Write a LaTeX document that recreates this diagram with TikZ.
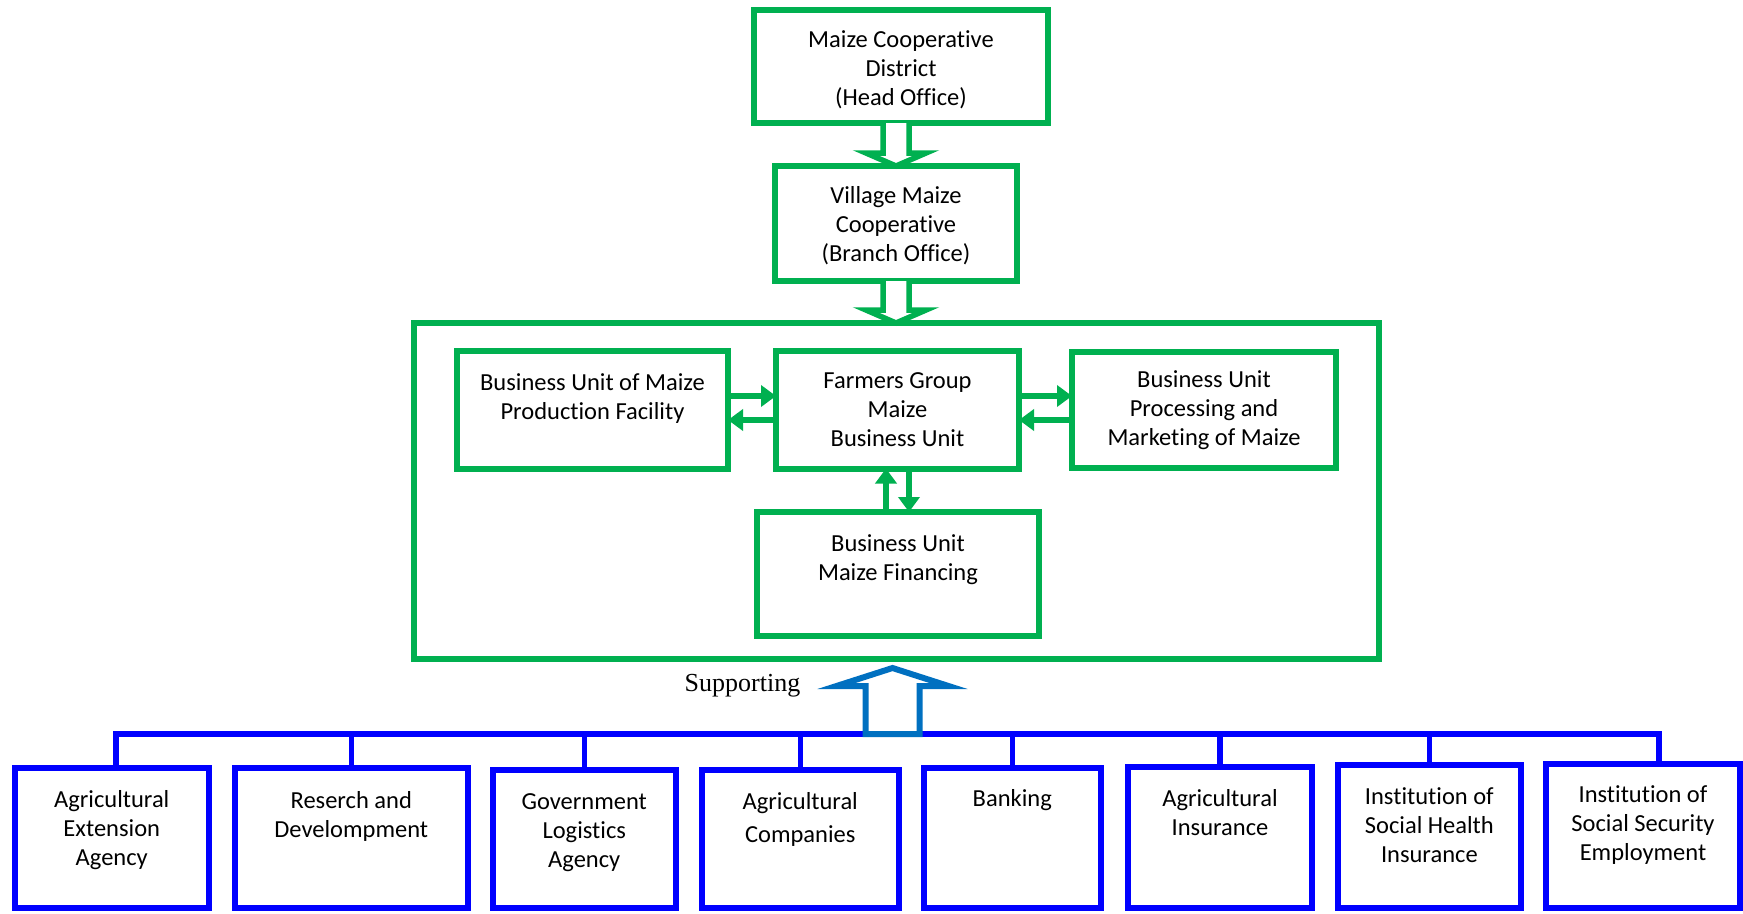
\documentclass[tikz,border=0pt]{standalone}
\usepackage{fontspec}
\newfontfamily\calibri[Ligatures=NoCommon]{Carlito}
\newfontfamily\timesfont{Liberation Serif}
\usetikzlibrary{calc,arrows.meta}

\definecolor{office_green}{HTML}{00B050}
\definecolor{office_blue}{HTML}{0000FF}
\definecolor{support_blue}{HTML}{0070C0}

\begin{document}
\begin{tikzpicture}[x=1pt, y=-1pt,
    gbox/.style={draw=office_green, line width=6pt, inner sep=0pt, outer sep=0pt},
    bbox/.style={draw=office_blue, line width=6pt, inner sep=0pt, outer sep=0pt, anchor=north},
    txt/.style={align=center, inner sep=0pt, font=\calibri\fontsize{24.5}{29}\selectfont},
    gblock/.style={draw=office_green, line width=5.5pt, fill=white, line join=miter},
    garr/.style={draw=office_green, line width=5.5pt, -{Triangle[length=15pt, width=21pt]}},
    bline/.style={draw=office_blue, line width=5.5pt}]
   \useasboundingbox (0, 0) rectangle (1743, 913);
   % head office and branch
   \node [gbox, minimum width=294pt, minimum height=113pt] (head) at (901, 66.5) {};
   \node [txt] (headtext) at (901, 70) {Maize Cooperative\\District\\(Head Office)};
   \node [gbox, minimum width=242pt, minimum height=115pt] (branch) at (896, 223.5) {};
   \node [txt] (branchtext) at (896, 225.5) {Village Maize\\Cooperative\\(Branch Office)};
   % frame round the business units
   \node [gbox, minimum width=965pt, minimum height=336pt] (big) at (896, 491) {};
   % business units
   \node [gbox, minimum width=271pt, minimum height=118pt] (prod) at (592.5, 409.5) {};
   \node [txt] (prodtext) at (592.5, 399) {Business Unit of Maize\\Production Facility};
   \node [gbox, minimum width=243pt, minimum height=118pt] (farm) at (897.5, 409.5) {};
   \node [txt] (farmtext) at (897.5, 409.5) {Farmers Group\\Maize\\Business Unit};
   \node [gbox, minimum width=264pt, minimum height=116pt] (proc) at (1204, 409.5) {};
   \node [txt] (proctext) at (1204, 410.5) {Business Unit\\Processing and\\Marketing of Maize};
   \node [gbox, minimum width=282pt, minimum height=124pt] (fin) at (898, 574) {};
   \node [txt] (fintext) at (898, 559.5) {Business Unit\\Maize Financing};
   % hollow arrows down the hierarchy
   \draw [gblock] ($(branch.north |- head.south)+(-13, 0)$) -- ($(branch.north)+(-13, -13)$) -- ($(branch.north)+(-30, -13)$) -- (branch.north) -- ($(branch.north)+(30, -13)$) -- ($(branch.north)+(13, -13)$) -- ($(branch.north |- head.south)+(13, 0)$);
   \draw [gblock] ($(branch.south)+(-13, 0)$) -- ($(branch.south |- big.north)+(-13, -13)$) -- ($(branch.south |- big.north)+(-30, -13)$) -- (branch.south |- big.north) -- ($(branch.south |- big.north)+(30, -13)$) -- ($(branch.south |- big.north)+(13, -13)$) -- ($(branch.south)+(13, 0)$);
   % arrows between the units
   \draw [garr] ($(prod.east)+(0, -13.5)$) -- ($(farm.west)+(0, -13.5)$);
   \draw [garr] ($(farm.west)+(0, 10.5)$) -- ($(prod.east)+(0, 10.5)$);
   \draw [garr] ($(farm.east)+(0, -13.5)$) -- ($(proc.west)+(0, -13.5)$);
   \draw [garr] ($(proc.west)+(0, 10.5)$) -- ($(farm.east)+(0, 10.5)$);
   \draw [garr] ($(farm.south |- fin.north)+(-11.5, 0)$) -- ($(farm.south)+(-11.5, 0)$);
   \draw [garr] ($(farm.south)+(11.5, 0)$) -- ($(farm.south |- fin.north)+(11.5, 0)$);
   % supporting institutions
   \node [bbox, minimum width=194.5pt, minimum height=140pt] (e1) at (111.75, 768) {};
   \node [bbox, minimum width=233.5pt, minimum height=140pt] (e2) at (351.25, 768) {};
   \node [bbox, minimum width=183.5pt, minimum height=138pt] (e3) at (584.25, 770) {};
   \node [bbox, minimum width=197.5pt, minimum height=138pt] (e4) at (800.25, 770) {};
   \node [bbox, minimum width=176.5pt, minimum height=140pt] (e5) at (1012.25, 768) {};
   \node [bbox, minimum width=184pt, minimum height=141pt] (e6) at (1220, 767) {};
   \node [bbox, minimum width=182.7pt, minimum height=143pt] (e7) at (1429.35, 765) {};
   \node [bbox, minimum width=194pt, minimum height=144pt] (e8) at (1643, 763.6) {};
   \node [txt] (t1) at (111.75, 830) {Agricultural\\Extension\\Agency};
   \node [txt] (t2) at (351.25, 816) {Reserch and\\Develompment};
   \node [txt] (t3) at (584.25, 833) {Government\\Logistics\\Agency};
   \node [txt] (t4) at (800.25, 819) {Agricultural\\[4pt]Companies};
   \node [txt] (t5) at (1012.25, 800) {Banking};
   \node [txt] (t6) at (1220, 812.5) {Agricultural\\Insurance};
   \node [txt] (t7) at (1429.35, 825) {Institution of\\Social Health\\Insurance};
   \node [txt] (t8) at (1643, 825) {Institution of\\Social Security\\Employment};
   % bus joining the institutions
   \coordinate (bus) at (0, 734);
   \draw [bline] ($(e1.north)+(4, 0)$) -- ($(e1.north |- bus)+(4, 0)$) -- ($(e8.north |- bus)+(16, 0)$) -- ($(e8.north)+(16, 0)$)
      (e2.north) -- (e2.north |- bus) (e3.north) -- (e3.north |- bus) (e4.north) -- (e4.north |- bus)
      (e5.north) -- (e5.north |- bus) (e6.north) -- (e6.north |- bus) (e7.north) -- (e7.north |- bus);
   % supporting arrow
   \coordinate (sup) at ($(big.south)+(-3.5, 9)$);
   \draw [draw=support_blue, line width=6pt, fill=white, line join=miter] ($(sup |- bus)+(-27, 0)$) -- ($(sup)+(-27, 18)$) -- ($(sup)+(-56, 18)$) -- (sup) -- ($(sup)+(56, 18)$) -- ($(sup)+(27, 18)$) -- ($(sup |- bus)+(27, 0)$) -- cycle;
   \node [font=\timesfont\fontsize{26}{30}\selectfont, inner sep=0pt] (suplabel) at (742.5, 686) {Supporting};
\end{tikzpicture}
\end{document}
